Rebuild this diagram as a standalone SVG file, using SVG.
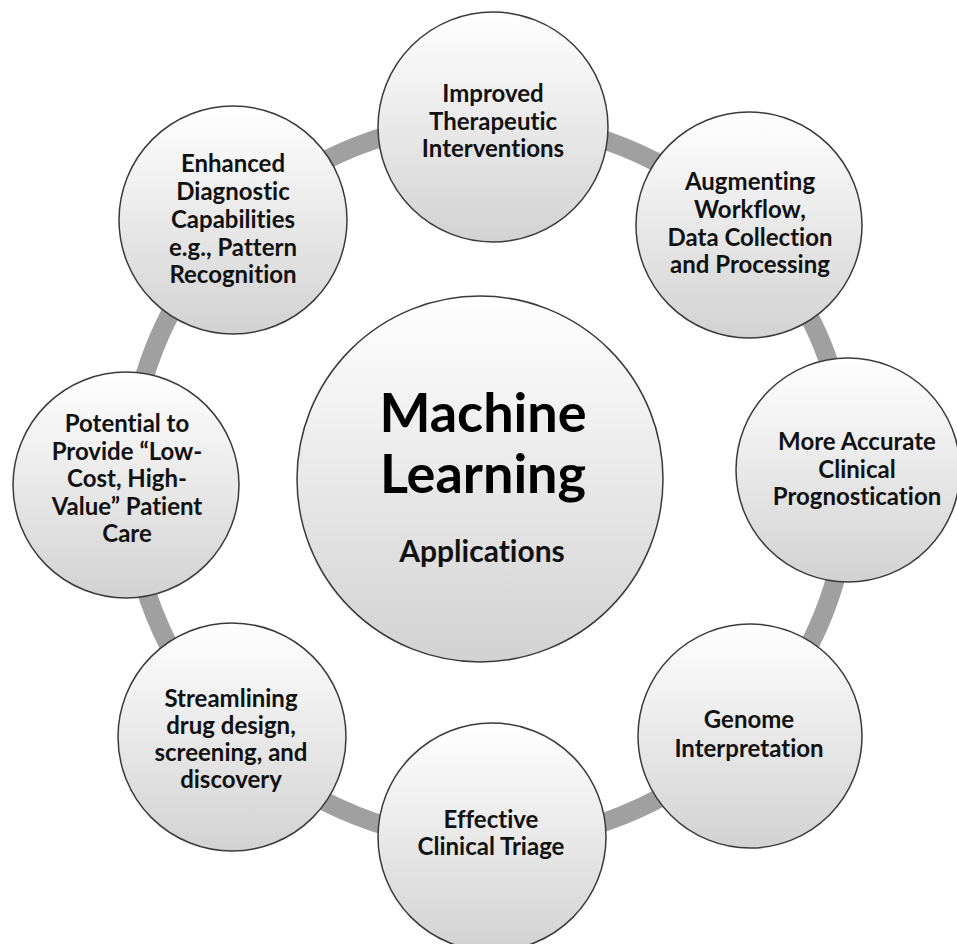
<svg xmlns="http://www.w3.org/2000/svg" width="957" height="944" viewBox="0 0 957 944">
  <style>
    .node { fill: url(#g); stroke: #3a3a3a; stroke-width: 1.5; }
    .t { font-family: Lato, "Liberation Sans", sans-serif; font-weight: bold; font-size: 24px; fill: #111; text-anchor: middle; font-variant-ligatures: none; }
    .big { font-family: Lato, "Liberation Sans", sans-serif; font-weight: bold; font-size: 54px; fill: #000; text-anchor: middle; }
    .mid { font-family: Lato, "Liberation Sans", sans-serif; font-weight: bold; font-size: 30px; fill: #111; text-anchor: middle; font-variant-ligatures: none; }
    .ring { fill: none; stroke: #a0a0a0; stroke-width: 19; }
  </style>
  <defs>
    <linearGradient id="g" x1="0" y1="0" x2="0" y2="1">
      <stop offset="0" stop-color="#ffffff"/>
      <stop offset="1" stop-color="#d2d2d2"/>
    </linearGradient>
  </defs>
  <rect width="957" height="944" fill="#ffffff"/>
  <g id="connectors">
    <circle class="ring" cx="489" cy="481" r="360"/>
  </g>
  <g id="center">
    <circle class="node" cx="480" cy="479" r="183"/>
    <text class="big" x="483" y="432">Machine</text>
    <text class="big" x="483" y="493">Learning</text>
    <text class="mid" x="482" y="562">Applications</text>
  </g>
  <g id="n-improved">
    <circle class="node" cx="493" cy="127" r="115"/>
    <text class="t" x="493" y="102">Improved</text>
    <text class="t" x="493" y="130">Therapeutic</text>
    <text class="t" x="493" y="157">Interventions</text>
  </g>
  <g id="n-augmenting">
    <circle class="node" cx="749" cy="225" r="113"/>
    <text class="t" x="750" y="190">Augmenting</text>
    <text class="t" x="750" y="218">Workflow,</text>
    <text class="t" x="750" y="246">Data Collection</text>
    <text class="t" x="750" y="273">and Processing</text>
  </g>
  <g id="n-prognostication">
    <circle class="node" cx="848" cy="470" r="112"/>
    <text class="t" x="857" y="450">More Accurate</text>
    <text class="t" x="857" y="478">Clinical</text>
    <text class="t" x="857" y="505">Prognostication</text>
  </g>
  <g id="n-genome">
    <circle class="node" cx="750" cy="736" r="112"/>
    <text class="t" x="749" y="728">Genome</text>
    <text class="t" x="749" y="757">Interpretation</text>
  </g>
  <g id="n-triage">
    <circle class="node" cx="492" cy="837" r="114"/>
    <text class="t" x="491" y="828">Effective</text>
    <text class="t" x="491" y="855">Clinical Triage</text>
  </g>
  <g id="n-drug">
    <circle class="node" cx="232" cy="737" r="114"/>
    <text class="t" x="231" y="707">Streamlining</text>
    <text class="t" x="231" y="734">drug design,</text>
    <text class="t" x="231" y="761">screening, and</text>
    <text class="t" x="231" y="788">discovery</text>
  </g>
  <g id="n-lowcost">
    <circle class="node" cx="126" cy="485" r="113"/>
    <text class="t" x="127" y="432">Potential to</text>
    <text class="t" x="127" y="460">Provide “Low-</text>
    <text class="t" x="127" y="487">Cost, High-</text>
    <text class="t" x="127" y="515">Value” Patient</text>
    <text class="t" x="127" y="542">Care</text>
  </g>
  <g id="n-diagnostic">
    <circle class="node" cx="233" cy="220" r="114"/>
    <text class="t" x="233" y="172">Enhanced</text>
    <text class="t" x="233" y="200">Diagnostic</text>
    <text class="t" x="233" y="228">Capabilities</text>
    <text class="t" x="233" y="256">e.g., Pattern</text>
    <text class="t" x="233" y="283">Recognition</text>
  </g>
</svg>
